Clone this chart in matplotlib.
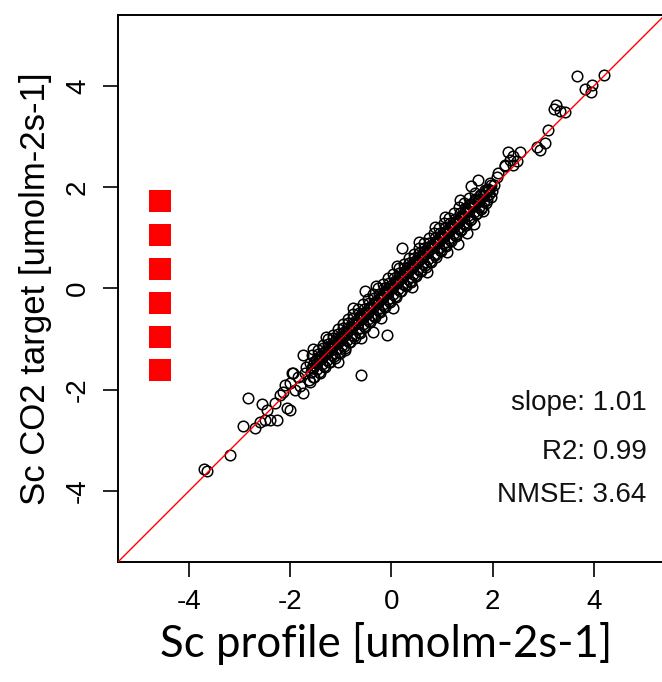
import numpy as np
import matplotlib.pyplot as plt

# --- data ---
# dense band along the 1:1 line
band_x = [-1.63, -1.58, -1.61, -1.55, -1.52, -1.47, -1.50, -1.45, -1.54,
          -1.42, -1.37, -1.40, -1.35, -1.44, -1.32, -1.28, -1.30, -1.25, -1.34,
          -1.22, -1.17, -1.20, -1.15, -1.24, -1.12, -1.07, -1.10, -1.05, -1.14,
          -1.02, -0.97, -1.00, -0.95, -1.04, -0.92, -0.87, -0.90, -0.85, -0.94,
          -0.82, -0.77, -0.80, -0.75, -0.84, -0.72, -0.67, -0.70, -0.65, -0.74,
          -0.62, -0.57, -0.60, -0.55, -0.64, -0.52, -0.47, -0.50, -0.45, -0.54,
          -0.42, -0.37, -0.40, -0.35, -0.44, -0.32, -0.27, -0.30, -0.25, -0.34,
          -0.22, -0.17, -0.20, -0.15, -0.24, -0.12, -0.07, -0.10, -0.05, -0.14,
          -0.02, 0.03, 0.00, 0.05, -0.04, 0.08, 0.13, 0.10, 0.15, 0.06,
          0.18, 0.23, 0.20, 0.25, 0.16, 0.28, 0.33, 0.30, 0.35, 0.26,
          0.38, 0.43, 0.40, 0.45, 0.36, 0.48, 0.53, 0.50, 0.55, 0.46,
          0.58, 0.63, 0.60, 0.65, 0.56, 0.68, 0.73, 0.70, 0.75, 0.66,
          0.78, 0.83, 0.80, 0.85, 0.76, 0.88, 0.93, 0.90, 0.95, 0.86,
          0.98, 1.03, 1.00, 1.05, 0.96, 1.08, 1.13, 1.10, 1.15, 1.06,
          1.18, 1.23, 1.20, 1.25, 1.16, 1.28, 1.33, 1.30, 1.35, 1.26,
          1.38, 1.43, 1.40, 1.45, 1.36, 1.48, 1.53, 1.50, 1.55, 1.46,
          1.58, 1.63, 1.60, 1.65, 1.56, 1.68, 1.73, 1.70, 1.75,
          1.78, 1.83, 1.80, 1.85, 1.88, 1.93, 1.90, 1.98, 2.02]
band_y = [-1.80, -1.64, -1.48, -1.57, -1.74, -1.59, -1.41, -1.29, -1.52,
          -1.67, -1.49, -1.34, -1.18, -1.41, -1.56, -1.41, -1.24, -1.09, -1.31,
          -1.46, -1.31, -1.14, -0.98, -1.23, -1.37, -1.19, -1.04, -0.90, -1.11,
          -1.28, -1.11, -0.96, -0.79, -1.03, -1.17, -1.01, -0.85, -0.69, -0.93,
          -1.06, -0.92, -0.76, -0.58, -0.83, -0.97, -0.81, -0.66, -0.49, -0.72,
          -0.88, -0.71, -0.55, -0.40, -0.63, -0.77, -0.61, -0.46, -0.29, -0.52,
          -0.66, -0.52, -0.36, -0.19, -0.41, -0.57, -0.41, -0.26, -0.10, -0.32,
          -0.46, -0.31, -0.16, 0.00, -0.22, -0.36, -0.21, -0.05, 0.10, -0.13,
          -0.27, -0.11, 0.05, 0.21, -0.01, -0.17, -0.01, 0.14, 0.30, 0.09,
          -0.06, 0.09, 0.25, 0.40, 0.19, 0.04, 0.19, 0.34, 0.50, 0.28,
          0.13, 0.29, 0.45, 0.60, 0.38, 0.24, 0.39, 0.54, 0.70, 0.48,
          0.34, 0.49, 0.64, 0.79, 0.58, 0.43, 0.59, 0.74, 0.89, 0.68,
          0.53, 0.69, 0.84, 0.99, 0.78, 0.63, 0.79, 0.94, 1.09, 0.88,
          0.74, 0.89, 1.04, 1.19, 0.98, 0.84, 0.99, 1.14, 1.29, 1.08,
          0.94, 1.09, 1.24, 1.38, 1.18, 1.04, 1.19, 1.34, 1.48, 1.28,
          1.15, 1.29, 1.44, 1.58, 1.38, 1.26, 1.39, 1.54, 1.67, 1.48,
          1.37, 1.50, 1.64, 1.76, 1.58, 1.49, 1.61, 1.74, 1.85,
          1.60, 1.72, 1.84, 1.95, 1.75, 1.86, 1.97, 1.92, 2.05]

# second layer of the band (fills the gaps, as in the solid black strip)
core_x = [-1.54, -1.57, -1.53, -1.56, -1.44, -1.47, -1.43, -1.46,
          -1.34, -1.37, -1.33, -1.36, -1.24, -1.27, -1.23, -1.26,
          -1.14, -1.17, -1.13, -1.16, -1.04, -1.07, -1.03, -1.06,
          -0.94, -0.97, -0.93, -0.96, -0.84, -0.87, -0.83, -0.86,
          -0.74, -0.77, -0.73, -0.76, -0.64, -0.67, -0.63, -0.66,
          -0.54, -0.57, -0.53, -0.56, -0.44, -0.47, -0.43, -0.46,
          -0.34, -0.37, -0.33, -0.36, -0.24, -0.27, -0.23, -0.26,
          -0.14, -0.17, -0.13, -0.16, -0.04, -0.07, -0.03, -0.06,
          0.06, 0.03, 0.07, 0.04, 0.16, 0.13, 0.17, 0.14,
          0.26, 0.23, 0.27, 0.24, 0.36, 0.33, 0.37, 0.34,
          0.46, 0.43, 0.47, 0.44, 0.56, 0.53, 0.57, 0.54,
          0.66, 0.63, 0.67, 0.64, 0.76, 0.73, 0.77, 0.74,
          0.86, 0.83, 0.87, 0.84, 0.96, 0.93, 0.97, 0.94,
          1.06, 1.03, 1.07, 1.04, 1.16, 1.13, 1.17, 1.14,
          1.26, 1.23, 1.27, 1.24, 1.36, 1.33, 1.37, 1.34,
          1.46, 1.43, 1.47, 1.44, 1.56, 1.53, 1.57, 1.54,
          1.66, 1.63, 1.67, 1.64, 1.76, 1.73, 1.77,
          1.86, 1.83, 1.87, 1.96, 1.93, 1.97]
core_y = [-1.74, -1.58, -1.46, -1.31, -1.64, -1.48, -1.36, -1.21,
          -1.54, -1.38, -1.26, -1.11, -1.46, -1.28, -1.16, -1.00,
          -1.34, -1.18, -1.06, -0.91, -1.26, -1.08, -0.96, -0.80,
          -1.14, -0.98, -0.86, -0.71, -1.05, -0.88, -0.76, -0.60,
          -0.94, -0.78, -0.66, -0.51, -0.85, -0.68, -0.56, -0.40,
          -0.74, -0.58, -0.46, -0.31, -0.65, -0.48, -0.36, -0.20,
          -0.54, -0.38, -0.26, -0.11, -0.45, -0.28, -0.16, 0.00,
          -0.34, -0.18, -0.06, 0.09, -0.25, -0.08, 0.04, 0.20,
          -0.14, 0.02, 0.14, 0.29, -0.05, 0.12, 0.24, 0.40,
          0.06, 0.22, 0.34, 0.49, 0.15, 0.32, 0.44, 0.60,
          0.26, 0.42, 0.54, 0.69, 0.35, 0.52, 0.64, 0.80,
          0.46, 0.62, 0.74, 0.89, 0.55, 0.72, 0.84, 1.00,
          0.66, 0.82, 0.94, 1.09, 0.75, 0.92, 1.04, 1.20,
          0.86, 1.02, 1.14, 1.29, 0.95, 1.12, 1.24, 1.40,
          1.06, 1.22, 1.34, 1.49, 1.15, 1.32, 1.44, 1.60,
          1.26, 1.42, 1.54, 1.69, 1.36, 1.52, 1.64, 1.78,
          1.47, 1.62, 1.74, 1.88, 1.57, 1.72, 1.84,
          1.68, 1.82, 1.93, 1.80, 1.94, 2.04]

# bumps on the edges of the strip
edge_x = [-0.75, -0.30, 0.55, 1.05, 1.35, -1.30, 0.10, -1.55, 0.85,
          -0.20, 0.70, 1.10, -1.05, 0.40, 1.50, -0.60, 1.80]
edge_y = [-0.38, 0.05, 0.92, 1.42, 1.75, -0.95, 0.45, -1.20, 1.22,
          -0.58, 0.32, 0.72, -1.45, 0.02, 1.10, -0.98, 1.52]

# scattered points off the band
spread_x = [-3.70, -3.64, -3.18, -2.83, -2.93, -2.69, -2.60, -2.56, -2.50, -2.40,
            -2.27, -2.46, -2.30, -2.20, -2.07, -2.00, -1.74, -1.61, -2.00, -1.94,
            -1.74, -1.97, -1.71, -2.10, -1.85, -1.80, -1.68, -1.90, -2.15,
            -0.60, -0.08, -0.36, -0.52, 0.04, -0.92, 0.20, 1.32, 1.63,
            1.58, 1.71, 1.94, 2.08, 2.10, 2.24, 2.31, 2.54, 2.40, 2.34, 2.47,
            2.24, 2.40, 2.87, 2.93, 3.03, 3.10, 3.25, 3.21, 3.33, 3.43, 3.66,
            4.20, 3.82, 3.95, 3.93]
spread_y = [-3.56, -3.60, -3.29, -2.16, -2.72, -2.76, -2.63, -2.28, -2.59, -2.59,
            -2.59, -2.39, -2.26, -2.10, -2.36, -2.39, -2.07, -1.84, -1.87, -1.67,
            -1.31, -1.67, -1.67, -1.90, -1.75, -1.92, -1.55, -2.00, -2.05,
            -1.70, -0.92, -0.85, -0.06, -0.39, -1.21, 0.80, 0.88, 1.27,
            2.03, 2.15, 2.08, 2.21, 2.28, 2.44, 2.70, 2.70, 2.61, 2.54, 2.51,
            2.41, 2.44, 2.79, 2.74, 2.87, 3.13, 3.63, 3.55, 3.51, 3.49, 4.19,
            4.22, 3.94, 4.02, 3.87]

profile = np.array(band_x + core_x + edge_x + spread_x)
target = np.array(band_y + core_y + edge_y + spread_y)

# red squares on the left
square_x = [-4.57] * 6
square_y = [1.73, 1.05, 0.39, -0.29, -0.95, -1.61]

ticks = [-4, -2, 0, 2, 4]
stats = ['slope: 1.01', 'R2: 0.99', 'NMSE: 3.64']

plt.rcParams['font.family'] = ['Liberation Sans', 'DejaVu Sans']
plt.rcParams['axes.unicode_minus'] = False

fig = plt.figure(figsize=(6.62, 6.82), dpi=100)
ax = fig.add_axes([0.1782, 0.1760, 0.8263, 0.8021])

ax.plot(profile, target, 'o', ms=7.6, mfc='none', mec='black', mew=1.1, zorder=2)
ax.axline((0, 0), slope=1, color='red', lw=1.0, zorder=3)
ax.plot(square_x, square_y, 's', ms=16, color='#ff0000', mew=0, zorder=3)

for lab, yy in zip(stats, [-2.26, -3.22, -4.07]):
    ax.text(5.04, yy, lab, ha='right', va='center', fontsize=20, color='#111111')

ax.set_xlim(-5.4, 5.4)
ax.set_ylim(-5.4, 5.4)
ax.set_xticks(ticks)
ax.set_yticks(ticks)
ax.tick_params(direction='out', length=10.5, width=1.2, labelsize=20, pad=9)
ax.tick_params(axis='y', labelrotation=90)
for lab in ax.get_yticklabels():
    lab.set_va('center')
for s in ax.spines.values():
    s.set_linewidth(1.4)

ax.set_ylabel('Sc CO2 target [umolm-2s-1]', fontsize=25)
ax.yaxis.set_label_coords(-0.121, 0.5)
ax.set_xlabel('Sc profile [umolm-2s-1]', fontsize=31.5, family=['Lato', 'DejaVu Sans'])
ax.xaxis.set_label_coords(0.49, -0.11)

fig.savefig('out.png', dpi=100)
